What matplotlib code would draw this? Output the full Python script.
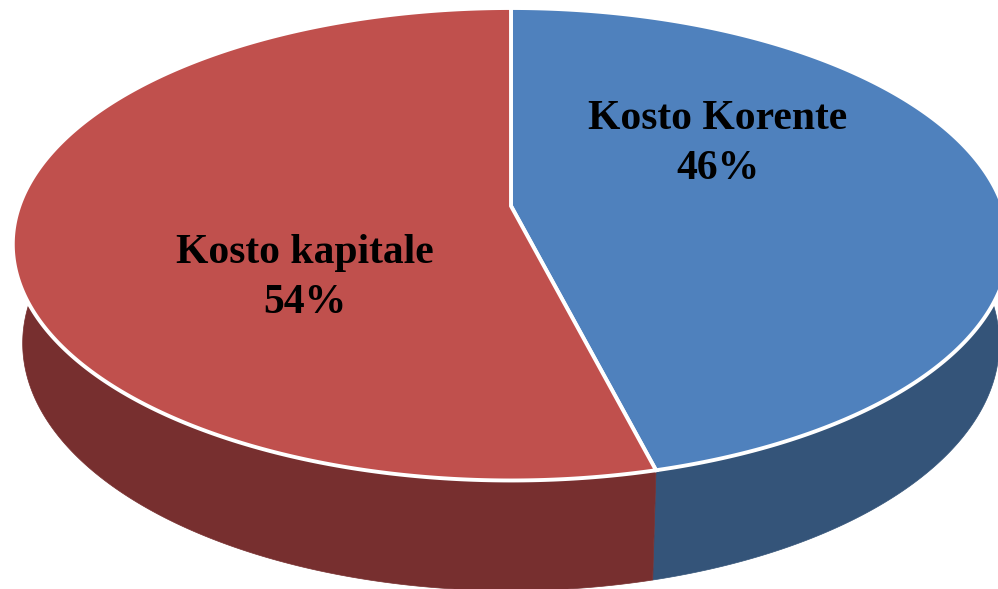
import numpy as np
import matplotlib
matplotlib.use("Agg")
import matplotlib.pyplot as plt
from matplotlib.patches import Polygon

# data
labels = ["Kosto Korente", "Kosto kapitale"]
shares = [46, 54]
top_colors = ["#4F81BD", "#C0504D"]
side_colors = ["#345479", "#772F2F"]
label_pos = [(718, 129), (305, 263)]

# simple perspective camera looking down at a flat cylinder
phi = np.radians(27.9)
c, s = np.cos(phi), np.sin(phi)
D = 5.46
h = 0.23
cx, cy = 511, 206
k = 198 * (D + c) / s


def project(theta, z):
    x = np.cos(theta)
    d = np.sin(theta)
    depth = d * c + D - z * s
    up = d * s + z * c
    return np.column_stack([cx + k * x / depth, cy - k * up / depth])


fig = plt.figure(figsize=(9.98, 5.89), dpi=100)
ax = fig.add_axes([0, 0, 1, 1])
ax.set_xlim(0, 998)
ax.set_ylim(589, 0)
ax.axis("off")

# slice angles: start at back (90 deg), go clockwise
bounds = [np.radians(90)]
for v in shares:
    bounds.append(bounds[-1] - np.radians(360 * v / sum(shares)))

# sides (only the front half shows)
for i in range(len(shares)):
    a0, a1 = bounds[i], bounds[i + 1]
    lo, hi = min(a0, a1), max(a0, a1)
    t = np.linspace(lo, hi, 400)
    t = t[np.sin(t) <= 0.02]
    if len(t) < 2:
        continue
    pts = np.vstack([project(t, 0), project(t[::-1], -h)])
    ax.add_patch(Polygon(pts, closed=True, facecolor=side_colors[i],
                         edgecolor=side_colors[i], lw=0.5))

# top faces
centre = np.array([[cx, cy]])
for i in range(len(shares)):
    t = np.linspace(bounds[i], bounds[i + 1], 400)
    pts = np.vstack([centre, project(t, 0)])
    ax.add_patch(Polygon(pts, closed=True, facecolor=top_colors[i],
                         edgecolor="white", lw=2.8, joinstyle="miter"))

for i, lab in enumerate(labels):
    x, y = label_pos[i]
    ax.text(x, y, lab, ha="center", va="baseline", fontsize=30,
            fontweight="bold", family="Liberation Serif", color="black")
    ax.text(x, y + 50, f"{shares[i]}%", ha="center", va="baseline",
            fontsize=30, fontweight="bold", family="Liberation Serif",
            color="black")

fig.savefig("out.png", dpi=100)
